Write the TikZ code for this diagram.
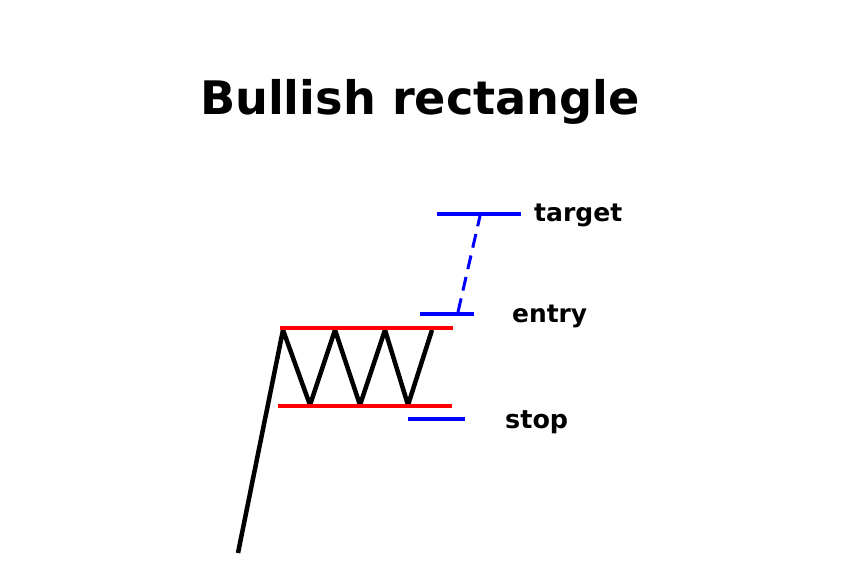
\documentclass[tikz,border=0pt]{standalone}
\usepackage{fontspec}
\setmainfont{DejaVu Sans}
\begin{document}
\begin{tikzpicture}[x=1pt,y=-1pt,
  price/.style={black,line width=4.5pt,line join=round},
  bound/.style={red,line width=4pt},
  level/.style={blue,line width=3.5pt},
  lbl/.style={anchor=west,font=\bfseries\fontsize{24}{24}\selectfont,inner sep=0pt}]
\useasboundingbox (0,0) rectangle (856,566);
\node[font=\bfseries\fontsize{44}{44}\selectfont,inner sep=0pt] (title) at (420,102) {\resizebox{440pt}{!}{Bullish rectangle}};
\coordinate (p0) at (238,553);
\coordinate (p1) at (283,330);
\coordinate (p2) at (310,405);
\coordinate (p3) at (335,330);
\coordinate (p4) at (360,405);
\coordinate (p5) at (385,330);
\coordinate (p6) at (408,405);
\coordinate (p7) at (432,330);
\draw[price] (p0) -- (p1) -- (p2) -- (p3) -- (p4) -- (p5) -- (p6) -- (p7);
\coordinate (rt1) at (280,328); \coordinate (rt2) at (453,328);
\coordinate (rb1) at (278,406); \coordinate (rb2) at (452,406);
\draw[bound] (rt1) -- (rt2);
\draw[bound] (rb1) -- (rb2);
\coordinate (e1) at (420,314); \coordinate (e2) at (474,314);
\coordinate (t1) at (437,214); \coordinate (t2) at (521,214);
\coordinate (s1) at (408,419); \coordinate (s2) at (465,419);
\draw[level] (e1) -- (e2);
\draw[level] (t1) -- (t2);
\draw[level] (s1) -- (s2);
\coordinate (d1) at (458,312); \coordinate (d2) at (480,216);
\draw[blue,line width=3pt,dash pattern=on 14pt off 8pt] (d1) -- (d2);
\node[lbl] (target) at (534,215) {\resizebox{88pt}{!}{target}};
\node[lbl] (entry) at (512,316) {\resizebox{75pt}{!}{entry}};
\node[lbl] (stop) at (505,422) {\resizebox{63pt}{!}{stop}};
\end{tikzpicture}
\end{document}
